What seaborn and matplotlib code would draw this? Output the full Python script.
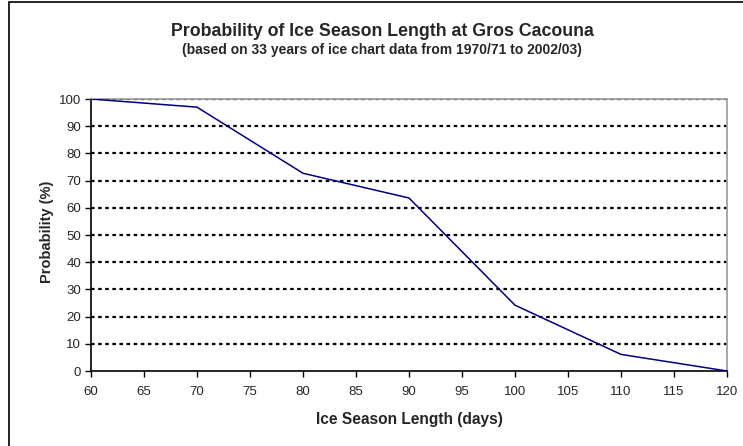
import matplotlib
matplotlib.use("Agg")
import matplotlib.pyplot as plt
import seaborn as sns
import pandas as pd
from matplotlib.patches import Rectangle

season_length = [60, 70, 80, 90, 100, 110, 120]
probability = [100, 97, 72.7, 63.6, 24.2, 6.1, 0]
x_ticks = list(range(60, 121, 5))
y_ticks = list(range(0, 101, 10))

sns.set_theme(style="white")
plt.rcParams['font.family'] = ['Liberation Sans', 'DejaVu Sans']

df = pd.DataFrame({"Ice Season Length (days)": season_length, "Probability (%)": probability})

fig = plt.figure(figsize=(7.43, 4.46), dpi=100)
ax = fig.add_axes([91/743, 1 - 371/446, (727 - 91)/743, (371 - 99)/446])

for yv in y_ticks[1:]:
    ax.axhline(yv, color="black", lw=1.6, ls=(0, (1.6, 1.6)), zorder=1)

sns.lineplot(data=df, x="Ice Season Length (days)", y="Probability (%)", ax=ax,
             color="#000080", lw=1.1, zorder=3)

ax.set_xlim(60, 120)
ax.set_ylim(0, 100)
ax.set_xticks(x_ticks)
ax.set_yticks(y_ticks)
ax.tick_params(axis="both", direction="out", length=4, width=1, color="black",
               labelsize=9.5, bottom=True, left=True)
ax.tick_params(axis="x", pad=7)
ax.tick_params(axis="y", pad=3)
for side in ["left", "bottom"]:
    ax.spines[side].set_color("black")
    ax.spines[side].set_linewidth(1.2)
for side in ["top", "right"]:
    ax.spines[side].set_color("#999999")
    ax.spines[side].set_linewidth(1.2)

ax.set_xlabel("Ice Season Length (days)", fontsize=11.2, fontweight="bold", labelpad=10)
ax.set_ylabel("Probability (%)", fontsize=10.5, fontweight="bold")
ax.yaxis.set_label_coords(-0.058, 0.512)

fig.text(382/743, 1 - 31/446, "Probability of Ice Season Length at Gros Cacouna",
         ha="center", va="center", fontsize=12.8, fontweight="bold")
fig.text(382/743, 1 - 50/446, "(based on 33 years of ice chart data from 1970/71 to 2002/03)",
         ha="center", va="center", fontsize=10, fontweight="bold")

fig.patches.append(Rectangle((9/743, -0.1), 1.1, 1 - 2/446 + 0.1, transform=fig.transFigure,
                             fill=False, edgecolor="black", lw=1.2, zorder=10))

fig.savefig("out.png", dpi=100)
